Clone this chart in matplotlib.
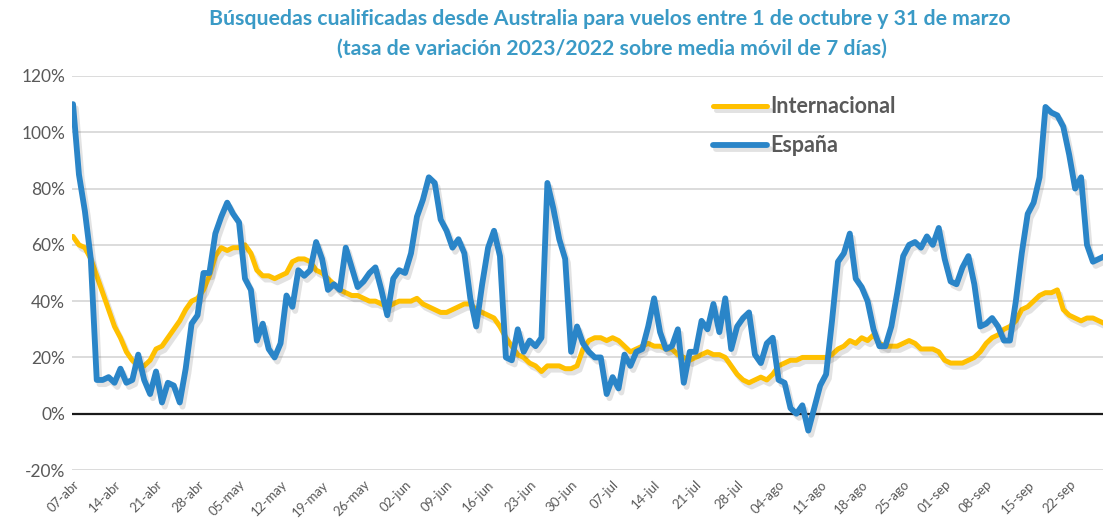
import numpy as np
import pandas as pd
import matplotlib
matplotlib.use("Agg")
import matplotlib.pyplot as plt
import matplotlib.patheffects as pe

# daily values (%), 07-abr-2023 .. 28-sep-2023
internacional = [
    63, 60, 59, 55, 49, 43, 37, 31, 27, 22, 19, 17, 17, 19, 23, 24, 27, 30, 33, 37,
    40, 41, 44, 49, 56, 59, 58, 59, 59, 60, 57, 51, 49, 49, 48, 49, 50, 54, 55, 55,
    54, 51, 50, 48, 46, 44, 43, 42, 42, 41, 40, 40, 39, 38, 39, 40, 40, 40, 41, 39,
    38, 37, 36, 36, 37, 38, 39, 39, 37, 36, 35, 34, 31, 27, 24, 21, 20, 18, 17, 15,
    17, 17, 17, 16, 16, 17, 23, 26, 27, 27, 26, 27, 26, 24, 22, 23, 24, 25, 24, 24,
    23, 23, 21, 20, 19, 20, 21, 22, 21, 21, 20, 17, 14, 12, 11, 12, 13, 12, 14, 17,
    18, 19, 19, 20, 20, 20, 20, 20, 21, 23, 24, 26, 25, 27, 26, 28, 25, 24, 24, 24,
    25, 26, 25, 23, 23, 23, 22, 19, 18, 18, 18, 19, 20, 22, 25, 27, 28, 30, 31, 33,
    37, 38, 40, 42, 43, 43, 44, 37, 35, 34, 33, 34, 34, 33, 32,
]
espana = [
    110, 85, 72, 55, 12, 12, 13, 11, 16, 11, 12, 21, 12, 7, 15, 4, 11, 10, 4, 16,
    32, 35, 50, 50, 64, 70, 75, 71, 68, 48, 44, 26, 32, 23, 20, 25, 42, 38, 51, 49,
    51, 61, 55, 44, 46, 44, 59, 52, 45, 47, 50, 52, 44, 35, 48, 51, 50, 57, 70, 76,
    84, 82, 69, 65, 59, 62, 57, 41, 31, 46, 59, 65, 56, 20, 19, 30, 22, 26, 24, 27,
    82, 73, 62, 55, 22, 31, 25, 22, 20, 20, 7, 13, 9, 21, 17, 22, 23, 31, 41, 29,
    23, 24, 30, 11, 22, 22, 33, 30, 39, 29, 41, 23, 31, 34, 36, 21, 18, 25, 27, 12,
    11, 2, 0, 3, -6, 2, 10, 14, 33, 54, 57, 64, 48, 45, 40, 30, 24, 24, 31, 43,
    56, 60, 61, 59, 63, 60, 66, 55, 47, 46, 52, 56, 46, 31, 32, 34, 31, 26, 26, 40,
    57, 71, 75, 84, 109, 107, 106, 102, 92, 80, 84, 60, 54, 55, 56,
]
fechas = pd.date_range("2023-04-07", periods=len(espana), freq="D")

tick_labels = ["07-abr", "14-abr", "21-abr", "28-abr", "05-may", "12-may", "19-may",
               "26-may", "02-jun", "09-jun", "16-jun", "23-jun", "30-jun", "07-jul",
               "14-jul", "21-jul", "28-jul", "04-ago", "11-ago", "18-ago", "25-ago",
               "01-sep", "08-sep", "15-sep", "22-sep"]
tick_dates = pd.date_range("2023-04-07", periods=len(tick_labels), freq="7D")

plt.rcParams['font.family'] = ['Lato', 'DejaVu Sans']

fig = plt.figure(figsize=(11.03, 5.24), dpi=100)
ax = fig.add_axes([0.0653, 0.103, 0.9347, 0.752])

shadow = [pe.SimpleLineShadow(offset=(2, -3), shadow_color='0.3', alpha=0.16), pe.Normal()]

ax.plot(fechas, internacional, color='#FFC000', lw=3.6, label='Internacional',
        solid_capstyle='round', solid_joinstyle='round', path_effects=shadow, zorder=3)
ax.plot(fechas, espana, color='#2A85C8', lw=4.2, label='España',
        solid_capstyle='round', solid_joinstyle='round', path_effects=shadow, zorder=4)

ax.set_ylim(-20, 120)
ax.set_yticks(range(-20, 121, 20))
ax.set_yticklabels([f"{v}%" for v in range(-20, 121, 20)])
ax.set_xlim(fechas[0] - pd.Timedelta(hours=4), fechas[0] + pd.Timedelta(days=173.7))
ax.set_xticks(tick_dates)
ax.set_xticklabels(tick_labels, rotation=45, ha='right', rotation_mode='anchor')

ax.grid(axis='y', color='#D9D9D9', lw=1.3)
ax.axhline(0, color='#1a1a1a', lw=1.6, zorder=2)
ax.set_axisbelow(True)
for s in ax.spines.values():
    s.set_visible(False)
ax.tick_params(length=0)
ax.tick_params(axis='y', labelsize=12.5, labelcolor='#595959', pad=5)
ax.tick_params(axis='x', labelsize=9.5, labelcolor='#595959', pad=6)

leg = ax.legend(loc='upper left', bbox_to_anchor=(0.603, 0.998), frameon=False,
                fontsize=15.5, handlelength=2.5, handletextpad=0.15, labelspacing=0.85)
for t in leg.get_texts():
    t.set_color('#595959')
    t.set_fontweight('bold')

fig.text(0.553, 0.964, "Búsquedas cualificadas desde Australia para vuelos entre 1 de octubre y 31 de marzo",
         ha='center', va='center', fontsize=15.3, color='#3A9AC6', fontweight='bold')
fig.text(0.555, 0.908, "(tasa de variación 2023/2022 sobre media móvil de 7 días)",
         ha='center', va='center', fontsize=15.3, color='#3A9AC6', fontweight='bold')

fig.savefig("out.png", dpi=100)
